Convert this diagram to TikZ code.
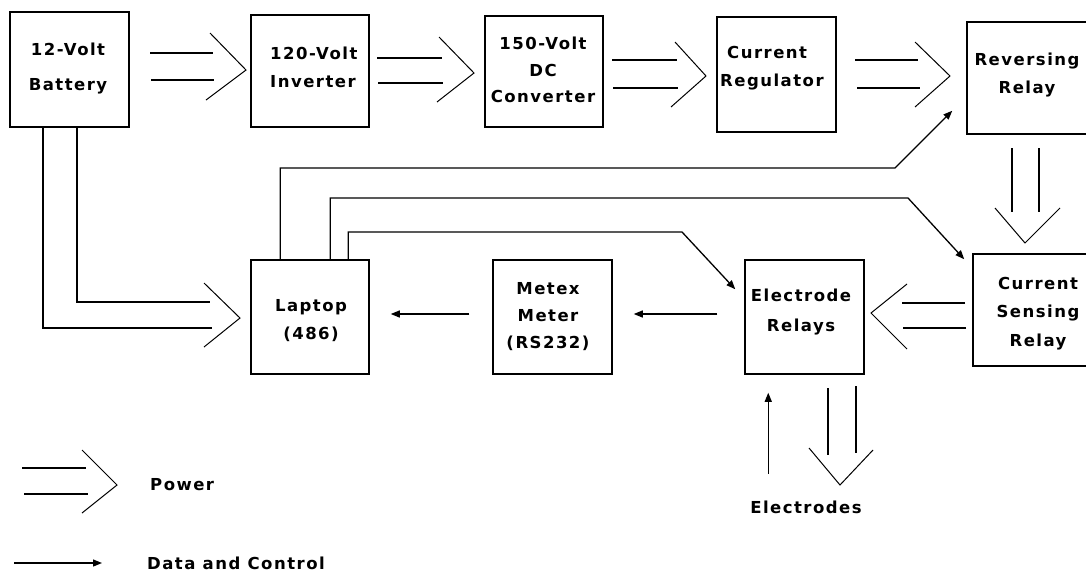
\documentclass[tikz,border=0pt]{standalone}
\usepackage{fontspec}
\newfontfamily\lblfont{DejaVu Sans}[LetterSpace=9]
\usetikzlibrary{arrows.meta,calc}
\tikzset{
  box/.style={draw, line width=1.5pt, inner sep=0pt},
  lbl/.style={font=\lblfont\bfseries\fontsize{16.5}{28}\selectfont, inner sep=0pt, align=center},
  power/.style={line width=1.3pt},
  chev/.style={line width=1pt},
  data/.style={line width=1.3pt, -{Triangle[length=9pt,width=7pt]}},
}
\begin{document}
\begin{tikzpicture}[x=1pt,y=-1pt]
\useasboundingbox (0,0) rectangle (1086,571);
% boxes
\node[box, minimum width=119pt, minimum height=115pt] (bat) at (69.5,69.5) {};
\node[box, minimum width=118pt, minimum height=112pt] (inv) at (310,71) {};
\node[box, minimum width=118pt, minimum height=111pt] (conv) at (544,71.5) {};
\node[box, minimum width=119pt, minimum height=115pt] (reg) at (776.5,74.5) {};
\node[box, minimum width=133pt, minimum height=112pt] (rev) at (1033.5,78) {};
\node[box, minimum width=118pt, minimum height=114pt] (lap) at (310,317) {};
\node[box, minimum width=119pt, minimum height=114pt] (met) at (552.5,317) {};
\node[box, minimum width=119pt, minimum height=114pt] (ele) at (804.5,317) {};
\node[box, minimum width=127pt, minimum height=112pt] (cs) at (1036.5,310) {};
% labels
\node[lbl, font=\lblfont\bfseries\fontsize{16.5}{35}\selectfont] (batt) at (68,68.5) {12-Volt\\Battery};
\node[lbl, align=left, anchor=west] (invt) at (270,67) {120-Volt\\Inverter};
\node[lbl, font=\lblfont\bfseries\fontsize{16.5}{26.5}\selectfont] (convt) at (543,70) {150-Volt\\DC\\Converter};
\node[lbl, align=left, anchor=west] (regt) at (720,68.5) {\hspace*{7pt}Current\\Regulator};
\node[lbl] (revt) at (1027,75) {Reversing\\Relay};
\node[lbl] (lapt) at (311,321) {Laptop\\(486)};
\node[lbl, font=\lblfont\bfseries\fontsize{16.5}{27}\selectfont] (mett) at (548,317) {Metex\\Meter\\(RS232)};
\node[lbl, font=\lblfont\bfseries\fontsize{16.5}{30}\selectfont] (elet) at (801,312) {Electrode\\Relays};
\node[lbl, font=\lblfont\bfseries\fontsize{16.5}{28.5}\selectfont] (cst) at (1038,313.5) {Current\\Sensing\\Relay};
\node[lbl, anchor=west] (pwrt) at (150,485) {Power};
\node[lbl, anchor=west] (datat) at (147,563) {Data and Control};
\node[lbl] (eltt) at (806,507) {Electrodes};
% power arrows
% battery -> inverter
\draw[power] (150,53) -- (213,53) (151,80) -- (214,80);
\draw[chev] (210,33) -- (246,70) -- (206,100);
% inverter -> converter
\draw[power] (377,58) -- (442,58) (378,83) -- (443,83);
\draw[chev] (439,37) -- (474,73) -- (437,102);
% converter -> regulator
\draw[power] (612,60) -- (677,60) (613,88) -- (678,88);
\draw[chev] (675,42) -- (706,76) -- (671,107);
% regulator -> reversing
\draw[power] (855,60) -- (918,60) (857,88) -- (920,88);
\draw[chev] (915,42) -- (950,76) -- (915,107);
% reversing -> current sensing
\draw[power] (1012,148) -- (1012,212) (1039,148) -- (1039,212);
\draw[chev] (995,208) -- (1025,243) -- (1060,208);
% current sensing -> electrode relays
\draw[power] (965,303) -- (902,303) (966,328) -- (903,328);
\draw[chev] (907,284) -- (871,313) -- (907,349);
% electrode relays -> electrodes
\draw[power] (828,388) -- (828,455) (856,386) -- (856,453);
\draw[chev] (809,448) -- (840,485) -- (873,450);
% battery -> laptop
\draw[power] (bat.south -| 43,0) |- (212,328);
\draw[power] (bat.south -| 77,0) |- (210,302);
\draw[chev] (204,283) -- (240,318) -- (204,347);
% legend power
\draw[power] (22,468) -- (86,468) (24,494) -- (88,494);
\draw[chev] (82,450) -- (117,485) -- (82,513);
% data arrows
\draw[data] ($(met.west)+(-23,-3)$) -- ($(lap.east)+(21,-3)$);
\draw[data] ($(ele.west)+(-27,-3)$) -- ($(met.east)+(21,-3)$);
\coordinate (tiprev) at ($(rev.south west)+(-14,-24)$);
\coordinate (tipcs) at ($(cs.north west)+(-8,6)$);
\coordinate (tipele) at ($(ele.north west)+(-9,30)$);
\draw[data] ($(lap.north west)+(30,0)$) |- (895,168) -- (tiprev);
\draw[data] ($(lap.north west)+(80,0)$) |- (908,198) -- (tipcs);
\draw[data] ($(lap.north west)+(98,0)$) |- (682,232) -- (tipele);
\draw[data] ($(ele.south west)+(24,99)$) -- ($(ele.south west)+(24,18)$);
\coordinate (lg1) at (14,563);
\coordinate (lg2) at (102,563);
\draw[data] (lg1) -- (lg2);
\end{tikzpicture}
\end{document}
